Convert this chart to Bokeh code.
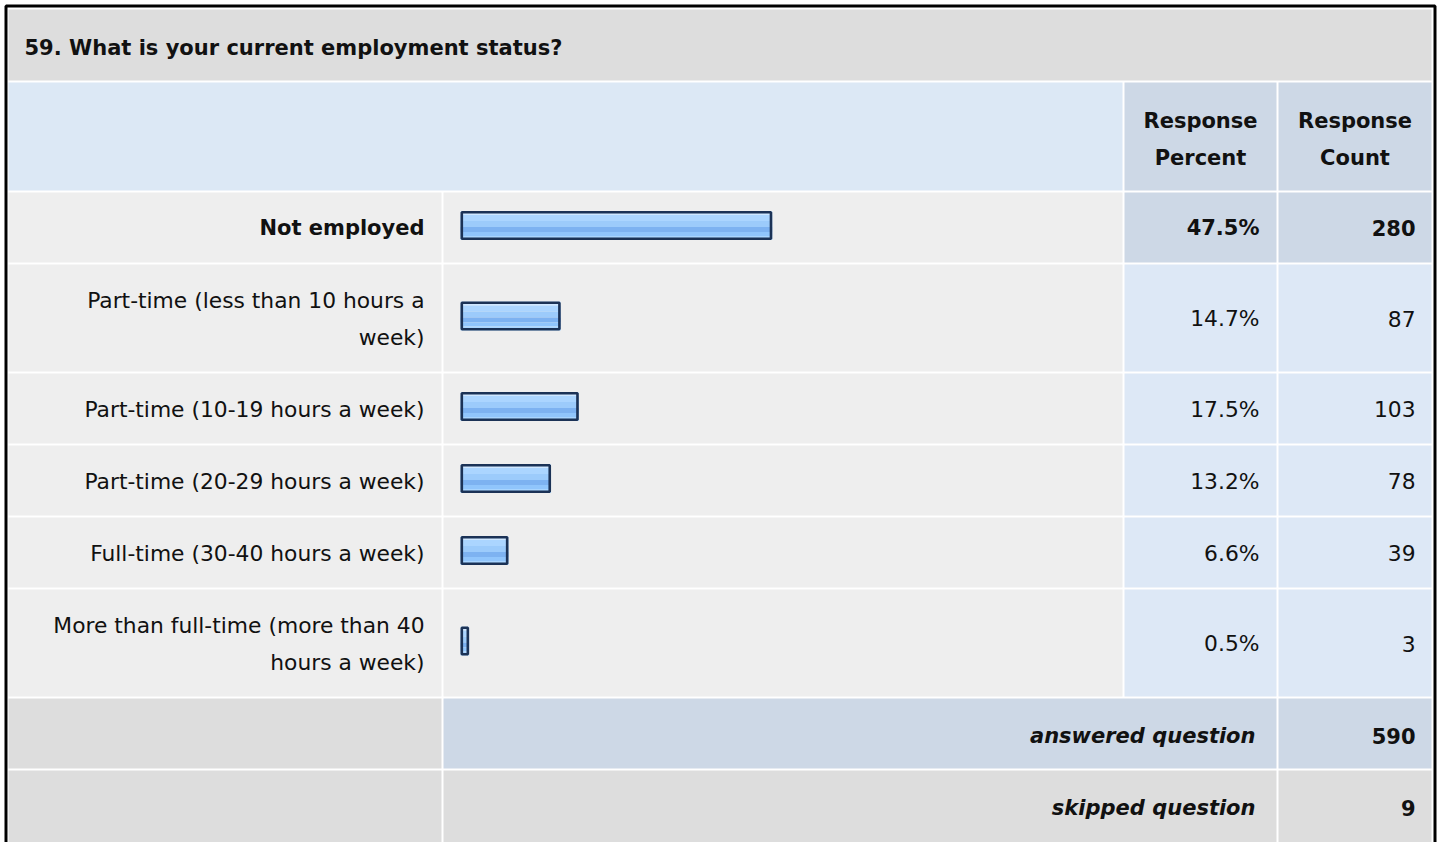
from bokeh.plotting import figure
from bokeh.models import Range1d, ColumnDataSource
from bokeh.core.properties import value
from bokeh.embed import file_html
from bokeh.resources import INLINE

# ---------------- data ----------------
title = "59. What is your current employment status?"
categories = [
    "Not employed",
    "Part-time (less than 10 hours a week)",
    "Part-time (10-19 hours a week)",
    "Part-time (20-29 hours a week)",
    "Full-time (30-40 hours a week)",
    "More than full-time (more than 40 hours a week)",
]
label_lines = [
    ["Not employed"],
    ["Part-time (less than 10 hours a", "week)"],
    ["Part-time (10-19 hours a week)"],
    ["Part-time (20-29 hours a week)"],
    ["Full-time (30-40 hours a week)"],
    ["More than full-time (more than 40", "hours a week)"],
]
percents = [47.5, 14.7, 17.5, 13.2, 6.6, 0.5]
counts = [280, 87, 103, 78, 39, 3]
header_percent = ["Response", "Percent"]
header_count = ["Response", "Count"]
answered_label = "answered question"
answered = 590
skipped_label = "skipped question"
skipped = 9

# ---------------- layout (reference pixel coordinates) ----------------
FONT = value("DejaVu Sans")
C_TITLE = "#dddddd"
C_HEAD = "#dce8f5"
C_HEAD2 = "#cdd8e6"
C_CELL = "#eeeeee"
C_NUM = "#dde8f6"
C_TXT = "#111111"

X_LAB = (8, 441)
X_BAR = (443, 1122)
X_PCT = (1124, 1276)
X_CNT = (1278, 1431)

p = figure(width=1440, height=842, output_backend="svg", toolbar_location=None,
           x_range=Range1d(0, 1440), y_range=Range1d(842, 0),
           min_border=0, min_border_left=0, min_border_right=0,
           min_border_top=0, min_border_bottom=0)
p.axis.visible = False
p.grid.visible = False
p.outline_line_color = None
p.background_fill_color = "white"
p.border_fill_color = "white"

cells = dict(l=[], r=[], t=[], b=[], c=[])


def cell(x, top, bot, color):
    cells["l"].append(x[0]); cells["r"].append(x[1])
    cells["t"].append(top); cells["b"].append(bot); cells["c"].append(color)


texts = dict(x=[], y=[], s=[], a=[], st=[], fs=[])


def txt(x, y, s, align, style="normal"):
    texts["x"].append(x); texts["y"].append(y); texts["s"].append(s)
    texts["a"].append(align); texts["st"].append(style)
    texts["fs"].append("21.8px" if style == "normal" else "21px")


# title row
cell((8, 1431), 9, 80, C_TITLE)
txt(24, 47, title, "left", "bold")

# header row
cell((8, 1122), 82, 190, C_HEAD)
cell(X_PCT, 82, 190, C_HEAD2)
cell(X_CNT, 82, 190, C_HEAD2)
hc = 138.5
for i, (a, b) in enumerate(zip(header_percent, header_count)):
    yy = hc - 18.5 + 37 * i
    txt((X_PCT[0] + X_PCT[1]) / 2, yy, a, "center", "bold")
    txt((X_CNT[0] + X_CNT[1]) / 2, yy, b, "center", "bold")

# answer rows
top = 192
best = max(range(len(percents)), key=lambda k: percents[k])
bars = dict(l=[], r=[], t=[], b=[], c=[])
outl = dict(l=[], r=[], t=[], b=[])
bands = [(0, 4, "#cfe7ff"), (4, 10, "#abd5ff"), (10, 16, "#9ccbfb"),
         (16, 21, "#7db2f1"), (21, 25, "#90c5fc"), (25, 29, "#a9d5ff")]
PX_PER_PCT = 6.45
BAR_X0 = 460
for i, (lines, pct, cnt) in enumerate(zip(label_lines, percents, counts)):
    h = 70 if len(lines) == 1 else 107
    bot = top + h
    ctr = (top + bot) / 2
    strong = i == best
    cell(X_LAB, top, bot, C_CELL)
    cell(X_BAR, top, bot, C_CELL)
    cell(X_PCT, top, bot, C_HEAD2 if strong else C_NUM)
    cell(X_CNT, top, bot, C_HEAD2 if strong else C_NUM)
    st = "bold" if strong else "normal"
    n = len(lines)
    for j, ln in enumerate(lines):
        yy = ctr + 0.5 + (j - (n - 1) / 2) * 37
        txt(424, yy, ln, "right", st)
    txt(1259, ctr + 0.5, f"{pct:.1f}%", "right", st)
    txt(1415, ctr + 0.5, str(cnt), "right", st)
    # bar
    right = BAR_X0 + 5.4 + pct * PX_PER_PCT
    btop = ctr - 2 - 14.5
    for (a, b, c) in bands:
        bars["l"].append(BAR_X0); bars["r"].append(right)
        bars["t"].append(btop + a); bars["b"].append(btop + b); bars["c"].append(c)
    outl["l"].append(BAR_X0 + 1.3); outl["r"].append(right - 1.3)
    outl["t"].append(btop + 1.3); outl["b"].append(btop + 29 - 1.3)
    top = bot + 2

# answered row
bot = top + 70
cell(X_LAB, top, bot, C_TITLE)
cell((X_BAR[0], X_PCT[1]), top, bot, C_HEAD2)
cell(X_CNT, top, bot, C_HEAD2)
txt(1255, (top + bot) / 2 + 2, answered_label, "right", "bold italic")
txt(1415, (top + bot) / 2 + 2, str(answered), "right", "bold")
top = bot + 2

# skipped row
bot = top + 72
cell(X_LAB, top, bot + 20, C_TITLE)
cell((X_BAR[0], X_PCT[1]), top, bot + 20, C_TITLE)
cell(X_CNT, top, bot + 20, C_TITLE)
txt(1255, top + 37, skipped_label, "right", "bold italic")
txt(1415, top + 37, str(skipped), "right", "bold")

p.quad(left="l", right="r", top="t", bottom="b", fill_color="c", line_color=None,
       source=ColumnDataSource(cells))
p.quad(left="l", right="r", top="t", bottom="b", fill_color="c", line_color=None,
       source=ColumnDataSource(bars))
p.quad(left="l", right="r", top="t", bottom="b", fill_color=None,
       line_color="#1b3256", line_width=2.6, source=ColumnDataSource(outl))

# outer border
p.line(x=[5.5, 5.5, 1434.5, 1434.5], y=[900, 5.5, 5.5, 900], line_color="black",
       line_width=3)

p.text(x="x", y="y", text="s", text_align="a", text_font_style="st",
       text_baseline="middle", text_font=FONT, text_font_size="fs",
       text_color=C_TXT, source=ColumnDataSource(texts))

open("out.html", "w").write(file_html(p, INLINE))
